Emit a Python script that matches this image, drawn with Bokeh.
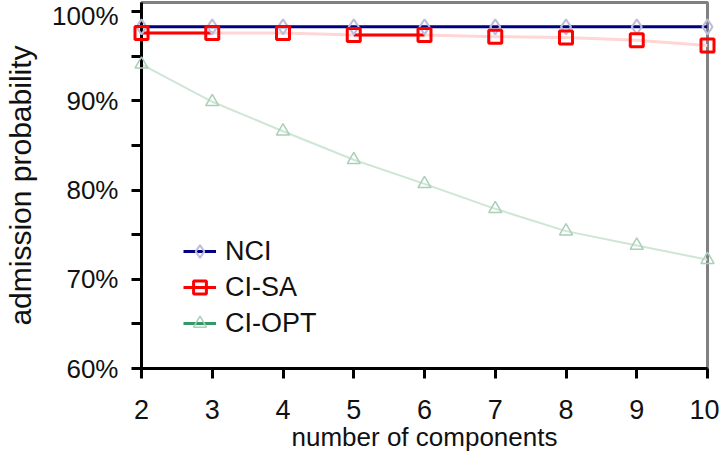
from bokeh.plotting import figure
from bokeh.models import ColumnDataSource, Range1d, FixedTicker, Legend, LegendItem
from bokeh.embed import file_html
from bokeh.resources import INLINE

# ---- data ----
components = [2, 3, 4, 5, 6, 7, 8, 9, 10]
nci = [98.3, 98.3, 98.3, 98.3, 98.3, 98.3, 98.3, 98.3, 98.3]
ci_sa = [97.6, 97.6, 97.6, 97.4, 97.4, 97.2, 97.1, 96.8, 96.2]
ci_opt = [94.1, 89.9, 86.6, 83.4, 80.7, 77.9, 75.4, 73.8, 72.2]
series_names = ["NCI", "CI-SA", "CI-OPT"]
y_ticks = [60, 65, 70, 75, 80, 85, 90, 95, 100]
y_labels = ["60%", "", "70%", "", "80%", "", "90%", "", "100%"]
x_ticks = [2, 3, 4, 5, 6, 7, 8, 9, 10]
x_title = "number of components"
y_title = "admission probability"
# segments of the CI-SA line that are printed in full red in the original
ci_sa_red_segments = [(0, 2), (3, 5)]

FONT = "Liberation Sans"

p = figure(width=719, height=456, output_backend="svg", toolbar_location=None,
           x_range=Range1d(2, 10), y_range=Range1d(60, 101.03),
           min_border_left=141, min_border_right=12, min_border_top=2,
           min_border_bottom=88)
p.background_fill_color = "white"
p.border_fill_color = "white"
p.outline_line_color = "#808080"
p.outline_line_width = 3
p.xgrid.visible = False
p.ygrid.visible = False

for ax in (p.xaxis[0], p.yaxis[0]):
    ax.axis_line_color = "black"
    ax.axis_line_width = 3
    ax.major_tick_line_color = "black"
    ax.major_tick_line_width = 3
    ax.major_tick_in = 0
    ax.major_tick_out = 10
    ax.minor_tick_line_color = None
    ax.major_label_text_font = FONT
    ax.major_label_text_color = "#111111"
    ax.axis_label_text_font = FONT
    ax.axis_label_text_font_style = "normal"
    ax.axis_label_text_color = "#111111"

p.xaxis.ticker = FixedTicker(ticks=x_ticks)
p.xaxis.major_label_text_font_size = "27px"
p.xaxis.major_label_standoff = 21
p.xaxis.axis_label = x_title
p.xaxis.axis_label_text_font_size = "26px"
p.xaxis.axis_label_standoff = 0

p.yaxis.ticker = FixedTicker(ticks=y_ticks)
p.yaxis.major_label_overrides = {t: l for t, l in zip(y_ticks, y_labels)}
p.yaxis.major_label_text_font_size = "26px"
p.yaxis.major_label_standoff = 13
p.yaxis.axis_label = y_title
p.yaxis.axis_label_text_font_size = "30px"
p.yaxis.axis_label_standoff = 12

# ---- plotted series ----
src = ColumnDataSource(dict(x=components, nci=nci, sa=ci_sa, opt=ci_opt))

# CI-OPT (faded)
p.line("x", "opt", source=src, line_color="#cfe6d6", line_width=2)
opt_m = p.scatter("x", "opt", source=src, marker="triangle", size=13,
                  line_color="#a9cfb7", line_width=1.5, fill_alpha=0, level="overlay")
# solid green swatch for the legend (a single-point line draws nothing on the plot)
opt_leg_line = p.line(components[:1], ci_opt[:1], line_color="#339966", line_width=3)

# CI-SA
p.line("x", "sa", source=src, line_color="#ffd6d6", line_width=3)
red_lines = []
for a, b in ci_sa_red_segments:
    red_lines.append(p.line(components[a:b], ci_sa[a:b], line_color="#ff0000", line_width=3))

# NCI
nci_m = p.scatter("x", "nci", source=src, marker="diamond", size=15,
                  line_color="#bdbdda", line_width=2, fill_alpha=0, level="overlay")
nci_line = p.line("x", "nci", source=src, line_color="#000080", line_width=3)

sa_m = p.scatter("x", "sa", source=src, marker="square", size=13,
                 line_color="#ff0000", line_width=3, fill_alpha=0, level="overlay")

legend = Legend(items=[
    LegendItem(label=series_names[0], renderers=[nci_line, nci_m]),
    LegendItem(label=series_names[1], renderers=[red_lines[0], sa_m]),
    LegendItem(label=series_names[2], renderers=[opt_leg_line, opt_m]),
], location=(42, 29))
legend.border_line_color = None
legend.background_fill_alpha = 0
legend.margin = 0
legend.padding = 0
legend.spacing = 4
legend.label_text_font = FONT
legend.label_text_font_size = "27px"
legend.label_text_color = "#111111"
legend.label_height = 32
legend.glyph_height = 32
legend.glyph_width = 33
legend.label_standoff = 9
p.add_layout(legend)

open("out.html", "w").write(file_html(p, INLINE))
